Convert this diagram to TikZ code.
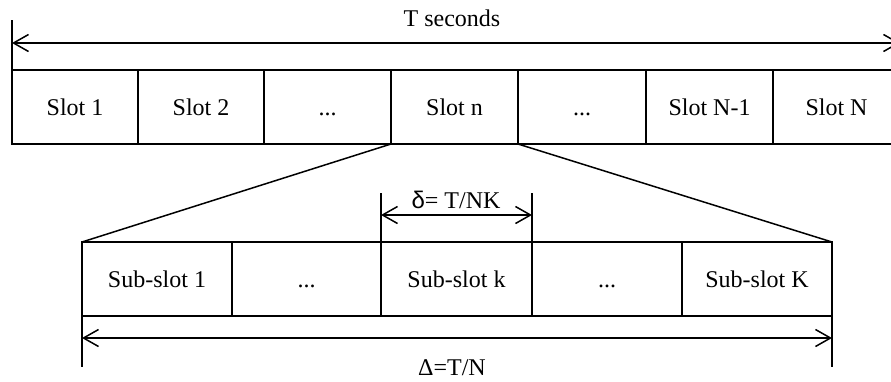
\documentclass[tikz,border=0pt]{standalone}
\usepackage{fontspec}
\setmainfont{Liberation Serif}
\newfontfamily\sansf{Liberation Sans}
\usetikzlibrary{arrows.meta}
\begin{document}
\begin{tikzpicture}[x=1pt,y=-1pt,line width=1.5pt,
  cell/.style={draw,rectangle,minimum height=74pt,inner sep=0pt,outer sep=0pt,text height=16.5pt,text depth=0pt,font=\fontsize{24}{28}\selectfont},
  lbl/.style={font=\fontsize{24}{28}\selectfont,inner sep=0pt,anchor=base},
  dim/.style={{Straight Barb[length=15pt,width=17pt]}-{Straight Barb[length=15pt,width=17pt]}}]
\useasboundingbox (0,0) rectangle (891,381);
% top row
\node[cell,minimum width=126pt] (s1) at (75,107) {Slot 1};
\node[cell,minimum width=126pt] (s2) at (201,107) {Slot 2};
\node[cell,minimum width=127pt] (s3) at (327.5,107) {...};
\node[cell,minimum width=127pt] (sn) at (454.5,107) {Slot n};
\node[cell,minimum width=128pt] (s5) at (582,107) {...};
\node[cell,minimum width=127pt] (s6) at (709.5,107) {Slot N-1};
\node[cell,minimum width=127pt] (sN) at (836.5,107) {Slot N};
% T seconds dimension
\coordinate (tl) at (12,20);
\coordinate (tr) at (900,20);
\coordinate (al) at (12,43);
\coordinate (ar) at (900,43);
\draw (s1.north west) -- (tl);
\draw (sN.north east) -- (tr);
\draw[dim] (al) -- (ar);
\node[lbl] (tsec) at (452,26) {T seconds};
% bottom row
\node[cell,minimum width=150pt] (b1) at (157,279) {Sub-slot 1};
\node[cell,minimum width=149pt] (b2) at (306.5,279) {...};
\node[cell,minimum width=151pt] (bk) at (456.5,279) {Sub-slot k};
\node[cell,minimum width=150pt] (b4) at (607,279) {...};
\node[cell,minimum width=150pt] (bK) at (757,279) {Sub-slot K};
% zoom lines
\draw (sn.south west) -- (b1.north west);
\draw (sn.south east) -- (bK.north east);
% delta dimension
\coordinate (dl) at (381,193);
\coordinate (dr) at (532,193);
\coordinate (dal) at (381,215);
\coordinate (dar) at (532,215);
\draw (bk.north west) -- (dl);
\draw (bk.north east) -- (dr);
\draw[dim] (dal) -- (dar);
\node[lbl] (dlab) at (456,208) {{\sansf δ}= T/NK};
% Delta dimension
\coordinate (Dl) at (82,367);
\coordinate (Dr) at (832,367);
\coordinate (Dal) at (82,338);
\coordinate (Dar) at (832,338);
\draw (b1.south west) -- (Dl);
\draw (bK.south east) -- (Dr);
\draw[dim] (Dal) -- (Dar);
\node[lbl] (Dlab) at (452,375) {Δ=T/N};
\end{tikzpicture}
\end{document}
